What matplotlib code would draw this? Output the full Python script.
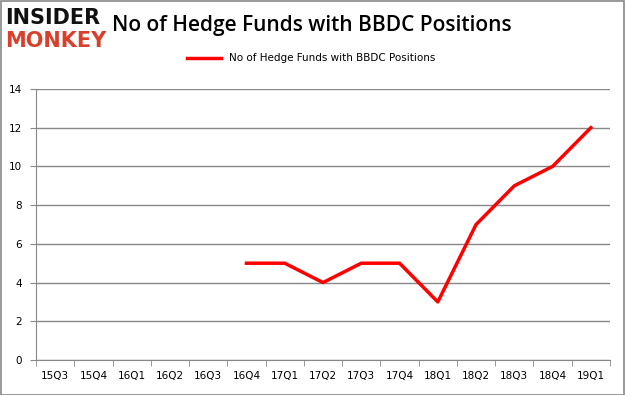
import numpy as np
import matplotlib.pyplot as plt
from matplotlib.patches import Rectangle

quarters = ["15Q3", "15Q4", "16Q1", "16Q2", "16Q3", "16Q4", "17Q1", "17Q2",
            "17Q3", "17Q4", "18Q1", "18Q2", "18Q3", "18Q4", "19Q1"]
funds = [np.nan, np.nan, np.nan, np.nan, np.nan, 5, 5, 4, 5, 5, 3, 7, 9, 10, 12]
series_name = "No of Hedge Funds with BBDC Positions"

fig = plt.figure(figsize=(6.25, 3.95), dpi=100)
fig.patches.append(Rectangle((0.001, 0.001), 0.998, 0.997, transform=fig.transFigure,
                             fill=False, edgecolor='#888888', linewidth=1.2))

ax = fig.add_axes([36 / 625, 35 / 395, 574 / 625, 271 / 395])
x = np.arange(len(quarters))
line, = ax.plot(x, funds, color='#ff0000', linewidth=2.5, label=series_name)

ax.set_xlim(-0.5, len(quarters) - 0.5)
ax.set_ylim(0, 14)
ax.set_yticks(range(0, 15, 2))
ax.set_xticks(x)
ax.set_xticklabels(quarters, fontsize=7.5, family='DejaVu Sans')
ax.set_xticks(np.arange(-0.5, len(quarters)), minor=True)
ax.tick_params(axis='x', which='major', length=0, pad=8)
ax.tick_params(axis='x', which='minor', length=4, color='#888888')
ax.tick_params(axis='y', length=4, color='#888888', labelsize=7.5, pad=6)
ax.grid(True, axis='y', color='#888888', linewidth=1)
ax.set_axisbelow(True)
for s in ['top', 'right']:
    ax.spines[s].set_visible(False)
for s in ['left', 'bottom']:
    ax.spines[s].set_color('#888888')

ax.legend(handles=[line], loc='lower center', bbox_to_anchor=(0.48, 1.06),
          frameon=False, fontsize=7.5, handlelength=3.2)

fig.text(0.18, 0.935, "No of Hedge Funds with BBDC Positions", fontsize=15,
         family='Open Sans', fontweight='semibold', va='center', ha='left')
fig.text(0.008, 0.955, "INSIDER", fontsize=15, fontweight='heavy',
         family='DejaVu Sans', color='#111111', va='center', ha='left')
fig.text(0.008, 0.895, "MONKEY", fontsize=15, fontweight='heavy',
         family='DejaVu Sans', color='#d9402b', va='center', ha='left')

fig.savefig("out.png", dpi=100)
